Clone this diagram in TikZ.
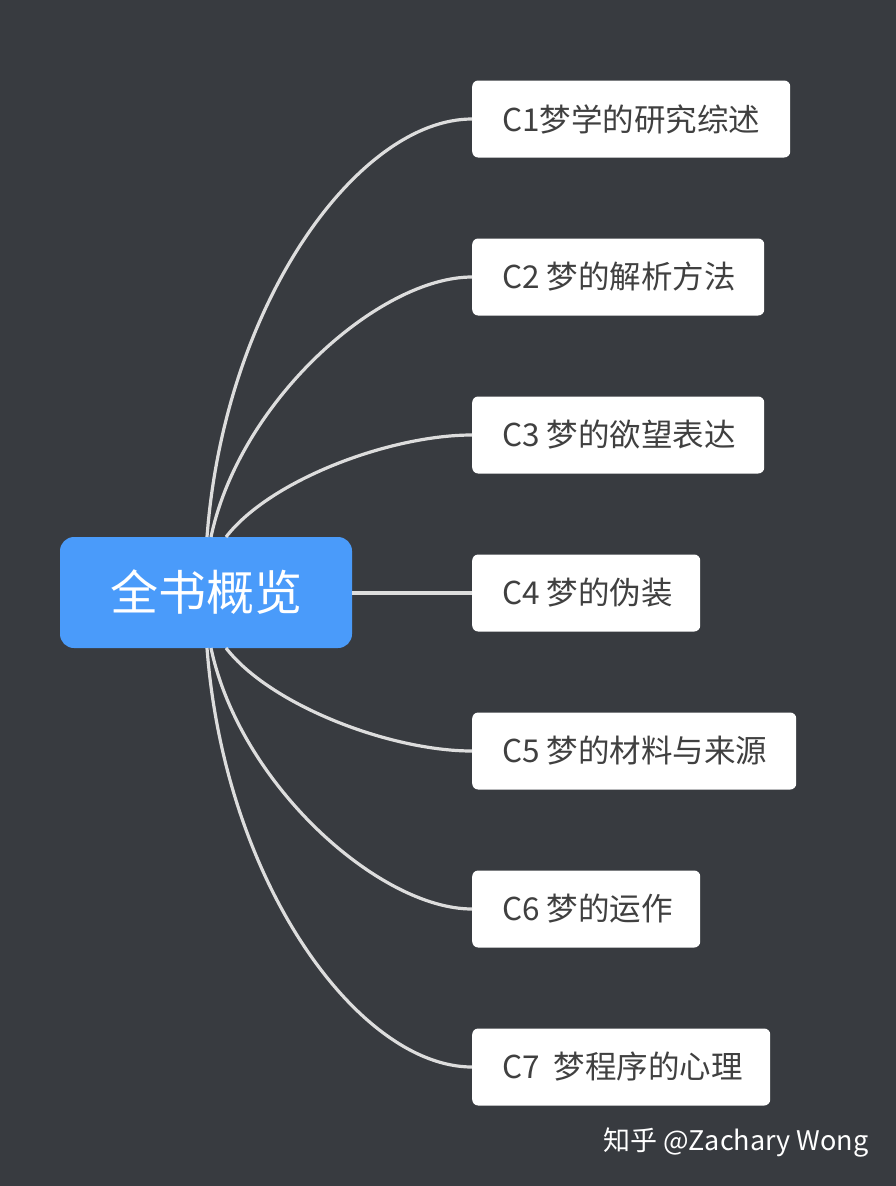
\documentclass[tikz,border=0pt]{standalone}
\usepackage{fontspec}
\setmainfont{Noto Sans CJK SC}
\definecolor{bg}{HTML}{383B40}
\definecolor{rootc}{HTML}{4A9BFA}
\definecolor{txt}{HTML}{404040}
\definecolor{linec}{HTML}{DDDDDD}
\begin{document}
\begin{tikzpicture}[x=1pt,y=-1pt,
  child/.style={fill=white,rounded corners=6pt,anchor=west,minimum height=77pt,inner xsep=0pt},
  conn/.style={draw=linec,line width=3.2pt}]
\fill[bg] (0,0) rectangle (896,1186);
\useasboundingbox (0,0) rectangle (896,1186);
\node[fill=rootc,rounded corners=14pt,minimum width=292pt,minimum height=111pt,text=white,font=\fontsize{48}{52}\selectfont] (root) at (206,592.5) {全书概览};
\coordinate (r1) at (207,537);
\coordinate (r2) at (211,537);
\coordinate (r3) at (226,537);
\coordinate (r5) at (226,648);
\coordinate (r6) at (211,648);
\coordinate (r7) at (207,648);
\node[child,minimum width=318pt] (c1) at (472,119) {};
\node[child,minimum width=292pt] (c2) at (472,277) {};
\node[child,minimum width=292pt] (c3) at (472,435) {};
\node[child,minimum width=228pt] (c4) at (472,593) {};
\node[child,minimum width=324pt] (c5) at (472,751) {};
\node[child,minimum width=228pt] (c6) at (472,909) {};
\node[child,minimum width=298pt] (c7) at (472,1067) {};
\foreach \i/\t in {1/C1梦学的研究综述,2/C2 梦的解析方法,3/C3 梦的欲望表达,4/C4 梦的伪装,5/C5 梦的材料与来源,6/C6 梦的运作,7/C7\ \ 梦程序的心理}
  \node[anchor=west,text=txt,font=\fontsize{31.5}{34}\selectfont,inner sep=0pt] (t\i) at ([xshift=30pt]c\i.west) {\t};
\draw[conn] (r1) .. controls (225,300) and (360,119) .. (c1.west);
\draw[conn] (r2) .. controls (240,400) and (380,277) .. (c2.west);
\draw[conn] (r3) .. controls (270,480) and (390,435) .. (c3.west);
\draw[conn] (root.east|-c4.west) -- (c4.west);
\draw[conn] (r5) .. controls (270,705) and (390,751) .. (c5.west);
\draw[conn] (r6) .. controls (240,785) and (380,909) .. (c6.west);
\draw[conn] (r7) .. controls (225,885) and (360,1067) .. (c7.west);
\node[text=white,font=\fontsize{27}{30}\selectfont,anchor=east] (wm) at (872,1143) {知乎 @Zachary Wong};
\end{tikzpicture}
\end{document}
